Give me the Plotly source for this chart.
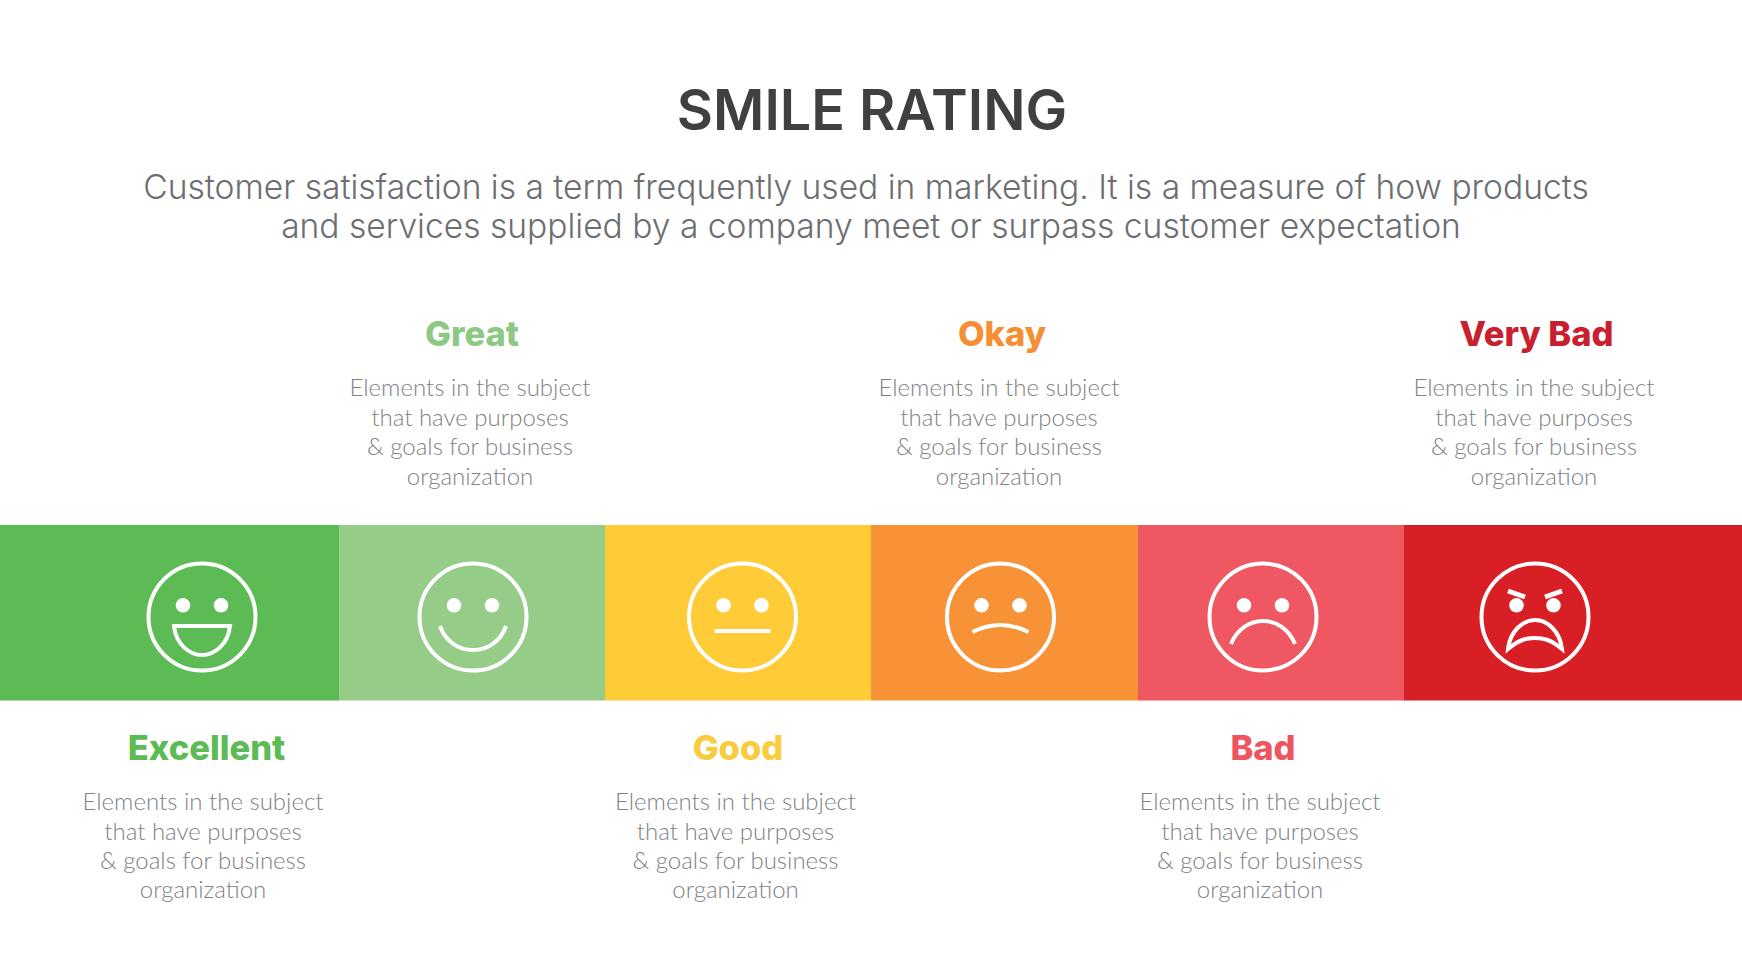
import plotly.graph_objects as go

WIDTH = 1742
HEIGHT = 980

# band segments, left to right
categories = ["Excellent", "Great", "Good", "Okay", "Bad", "Very Bad"]
band_widths = [339, 266, 266, 267, 266, 338]
band_colors = ["#5DBB55", "#95CC88", "#FFCB36", "#F79237", "#EF5762", "#D91F26"]
label_colors = ["#5DBB55", "#8CC983", "#F9CC3D", "#F68E33", "#EE5561", "#C8202F"]

face_x = [202, 473, 742.5, 1000.5, 1263, 1535]
face_y = 617
band_top = 525
band_bottom = 700.5

title = "SMILE RATING"
subtitle_lines = [
    "Customer satisfaction is a term frequently used in marketing. It is a measure of how products",
    "and services supplied by a company meet or surpass customer expectation",
]
subtitle_x = [866, 871]
subtitle_y = [191, 230]

body_lines = ["Elements in the subject", "that have purposes", "& goals for business", "organization"]
heading_x = [206.5, 472, 738, 1002, 1263, 1536.5]
heading_y = [751.5, 337.5, 751.5, 337.5, 751.5, 337.5]
body_x = [203, 470, 735.5, 999, 1260, 1534]
body_y_top = [390, 419.5, 449, 478.5]
body_y_bottom = [804, 833.5, 863, 892]

# face parts in px around the face centre, y goes down
eye_dx = [19, 19, 19, 19, 19, 18.5]
eye_y = -11.7
mouths = [
    "M-28 9 L28 9 C26 28 12 38 0 38 C-12 38 -26 28 -28 9 Z",
    "M-33 9 C-27 26 -13 33 0 33 C13 33 27 26 33 9",
    "M-28 14 L28 14",
    "M-28 15 Q0 1 28 15",
    "M-32 27 C-26 12 -13 4 0 4 C13 4 26 12 32 27",
    "M-27 32 C-25 14 -12 3 0 3 C12 3 25 14 27 32 C15 22 8 21 0 21 C-8 21 -15 22 -27 32 Z",
]
brows = ["M-27 -26 L-10 -20", "M27 -26 L10 -20"]


def shift_path(path, cx, cy):
    # move a local path to the face centre
    out = []
    is_x = True
    for tok in path.replace("M", "M ").replace("L", " L ").replace("C", " C ").replace("Q", " Q ").replace("Z", " Z").split():
        if tok in "MLCQZ":
            out.append(tok)
            is_x = True
        else:
            out.append(str(float(tok) + (cx if is_x else cy)))
            is_x = not is_x
    return " ".join(out)


def line_shape(path, width):
    return dict(type="path", xref="x", yref="y", path=path, line=dict(color="white", width=width))


def circle_shape(cx, cy, r, **kw):
    return dict(type="circle", xref="x", yref="y", x0=cx - r, x1=cx + r, y0=cy - r, y1=cy + r, **kw)


fig = go.Figure()

base = 0
for name, w, color in zip(categories, band_widths, band_colors):
    fig.add_trace(go.Bar(
        x=[w], y=[(band_top + band_bottom) / 2], base=base, width=band_bottom - band_top,
        orientation="h", name=name, marker=dict(color=color, line=dict(width=0)),
        hoverinfo="name"))
    base += w

shapes = []
for i, cx in enumerate(face_x):
    shapes.append(circle_shape(cx, face_y, 53.5, line=dict(color="white", width=4)))
    for side in (-1, 1):
        shapes.append(circle_shape(cx + side * eye_dx[i], face_y + eye_y, 7.3,
                                   fillcolor="white", line=dict(width=0)))
    shapes.append(line_shape(shift_path(mouths[i], cx, face_y), 4))
for brow in brows:
    shapes.append(line_shape(shift_path(brow, face_x[5], face_y), 5))

# title and intro
fig.add_trace(go.Scatter(
    x=[872], y=[116], mode="text", text=[title], hoverinfo="skip",
    textfont=dict(family="Inter", size=55.7, weight=600, color="#404041")))
fig.add_trace(go.Scatter(
    x=subtitle_x, y=subtitle_y, mode="text", text=subtitle_lines, hoverinfo="skip",
    textfont=dict(family="Inter", size=33.6, weight=300, color="#6D6E71")))

# headings and their text blocks
for i, name in enumerate(categories):
    fig.add_trace(go.Scatter(
        x=[heading_x[i]], y=[heading_y[i]], mode="text", text=[name], hoverinfo="skip",
        textfont=dict(family="Inter", size=34.5, weight=800, color=label_colors[i])))
    ys = body_y_bottom if i % 2 == 0 else body_y_top
    fig.add_trace(go.Scatter(
        x=[body_x[i]] * len(body_lines), y=ys, mode="text", text=body_lines, hoverinfo="skip",
        textfont=dict(family="Lato", size=24, weight=300, color="#808285")))

fig.update_layout(
    width=WIDTH, height=HEIGHT, margin=dict(l=0, r=0, t=0, b=0),
    paper_bgcolor="white", plot_bgcolor="white",
    showlegend=False, barmode="overlay", shapes=shapes,
    xaxis=dict(range=[0, WIDTH], visible=False, fixedrange=True),
    yaxis=dict(range=[HEIGHT, 0], visible=False, fixedrange=True),
)

fig.write_html("out.html", config=dict(displayModeBar=False),
               post_script="document.body.style.margin='0';")
